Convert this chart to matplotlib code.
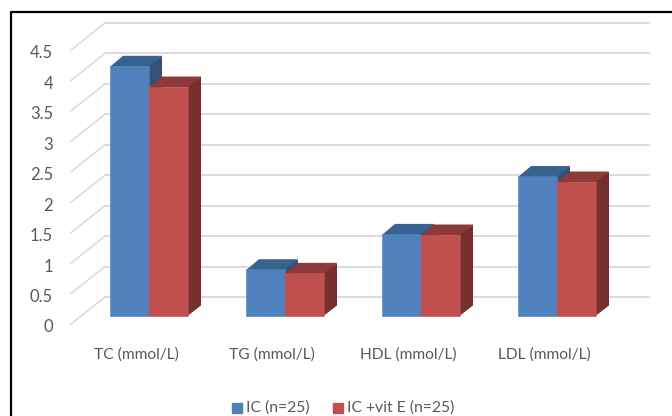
import matplotlib
matplotlib.use('Agg')
import matplotlib.pyplot as plt

plt.rcParams['font.family'] = ['Lato', 'DejaVu Sans']

categories = ['TC (mmol/L)', 'TG (mmol/L)', 'HDL (mmol/L)', 'LDL (mmol/L)']
ic_values = [4.1, 0.76, 1.34, 2.29]
vit_e_values = [3.76, 0.70, 1.33, 2.20]
y_ticks = [0, 0.5, 1, 1.5, 2, 2.5, 3, 3.5, 4, 4.5]
y_tick_labels = ['0', '0.5', '1', '1.5', '2', '2.5', '3', '3.5', '4', '4.5']
series_names = ['IC (n=25)', 'IC +vit E (n=25)']

W, H = 672, 416
PX_X = 136.0   # pixels per category
PX_Y = 60.9    # pixels per unit of value
X0 = 149.0     # pixel of the first category


# pixel helpers, so the depth of the 3D look can be given in pixels
def dx(px):
    return px / PX_X


def dy(px):
    return px / PX_Y


fig = plt.figure(figsize=(W / 100, H / 100), dpi=100)
ax = fig.add_axes([0, 0, 1, 1])
ax.set_xlim(-X0 / PX_X, (W - X0) / PX_X)
ax.set_ylim(-(H - 315.5) / PX_Y, 315.5 / PX_Y)
ax.axis('off')

# back wall gridlines and the slanted floor/side lines
wall_x, wall_y = dx(24), dy(18.5)
left = -0.5
right = 3.5
for v, lab in zip(y_ticks, y_tick_labels):
    ax.plot([left + wall_x, right + wall_x], [v + wall_y, v + wall_y],
            color='#dcdcdc', lw=1.4, zorder=1)
    ax.plot([left - dx(10), left + wall_x], [v - dy(8.5), v + wall_y],
            color='#dcdcdc', lw=1.2, zorder=1)
    ax.text(left - dx(28), v - dy(12), lab, ha='right', va='center',
            fontsize=12, color='#595959')

# bars
bar_w = 39 / PX_X
depth_x, depth_y = dx(13), dy(10)
for series, front, top, side, offset in [
        (ic_values, '#4f81bd', '#3a6290', '#325277', -bar_w),
        (vit_e_values, '#c0504d', '#8e3a38', '#772f2d', 0)]:
    xs = [i + offset for i in range(len(categories))]
    ax.bar(xs, series, width=bar_w, align='edge', color=front, edgecolor=front,
           lw=0.4, zorder=3)
    for x, v in zip(xs, series):
        ax.fill([x, x + depth_x, x + bar_w + depth_x, x + bar_w],
                [v - dy(1), v + depth_y, v + depth_y, v - dy(1)], color=top, lw=0, zorder=2.5)
        ax.fill([x + bar_w, x + bar_w + depth_x, x + bar_w + depth_x, x + bar_w],
                [0, depth_y, v + depth_y, v], color=side, lw=0, zorder=2.5)

for i, name in enumerate(categories):
    ax.text(i - dx(13), -dy(39.5), name, ha='center', va='center',
            fontsize=11.2, color='#595959')

# legend
fig.patches.extend([
    plt.Rectangle((232 / W, 1 - 412.5 / H), 10 / W, 10 / H, color='#4f81bd', transform=fig.transFigure),
    plt.Rectangle((333 / W, 1 - 412.5 / H), 10 / W, 10 / H, color='#c0504d', transform=fig.transFigure),
])
fig.text(246 / W, 1 - 407.5 / H, series_names[0], ha='left', va='center', fontsize=11.3, color='#595959')
fig.text(347 / W, 1 - 407.5 / H, series_names[1], ha='left', va='center', fontsize=11.3, color='#595959')

# black frame
fig.add_artist(plt.Line2D([11 / W, 11 / W, 1], [0, 1 - 12 / H, 1 - 12 / H],
                          color='black', lw=1.6))

fig.savefig('out.png', dpi=100)
